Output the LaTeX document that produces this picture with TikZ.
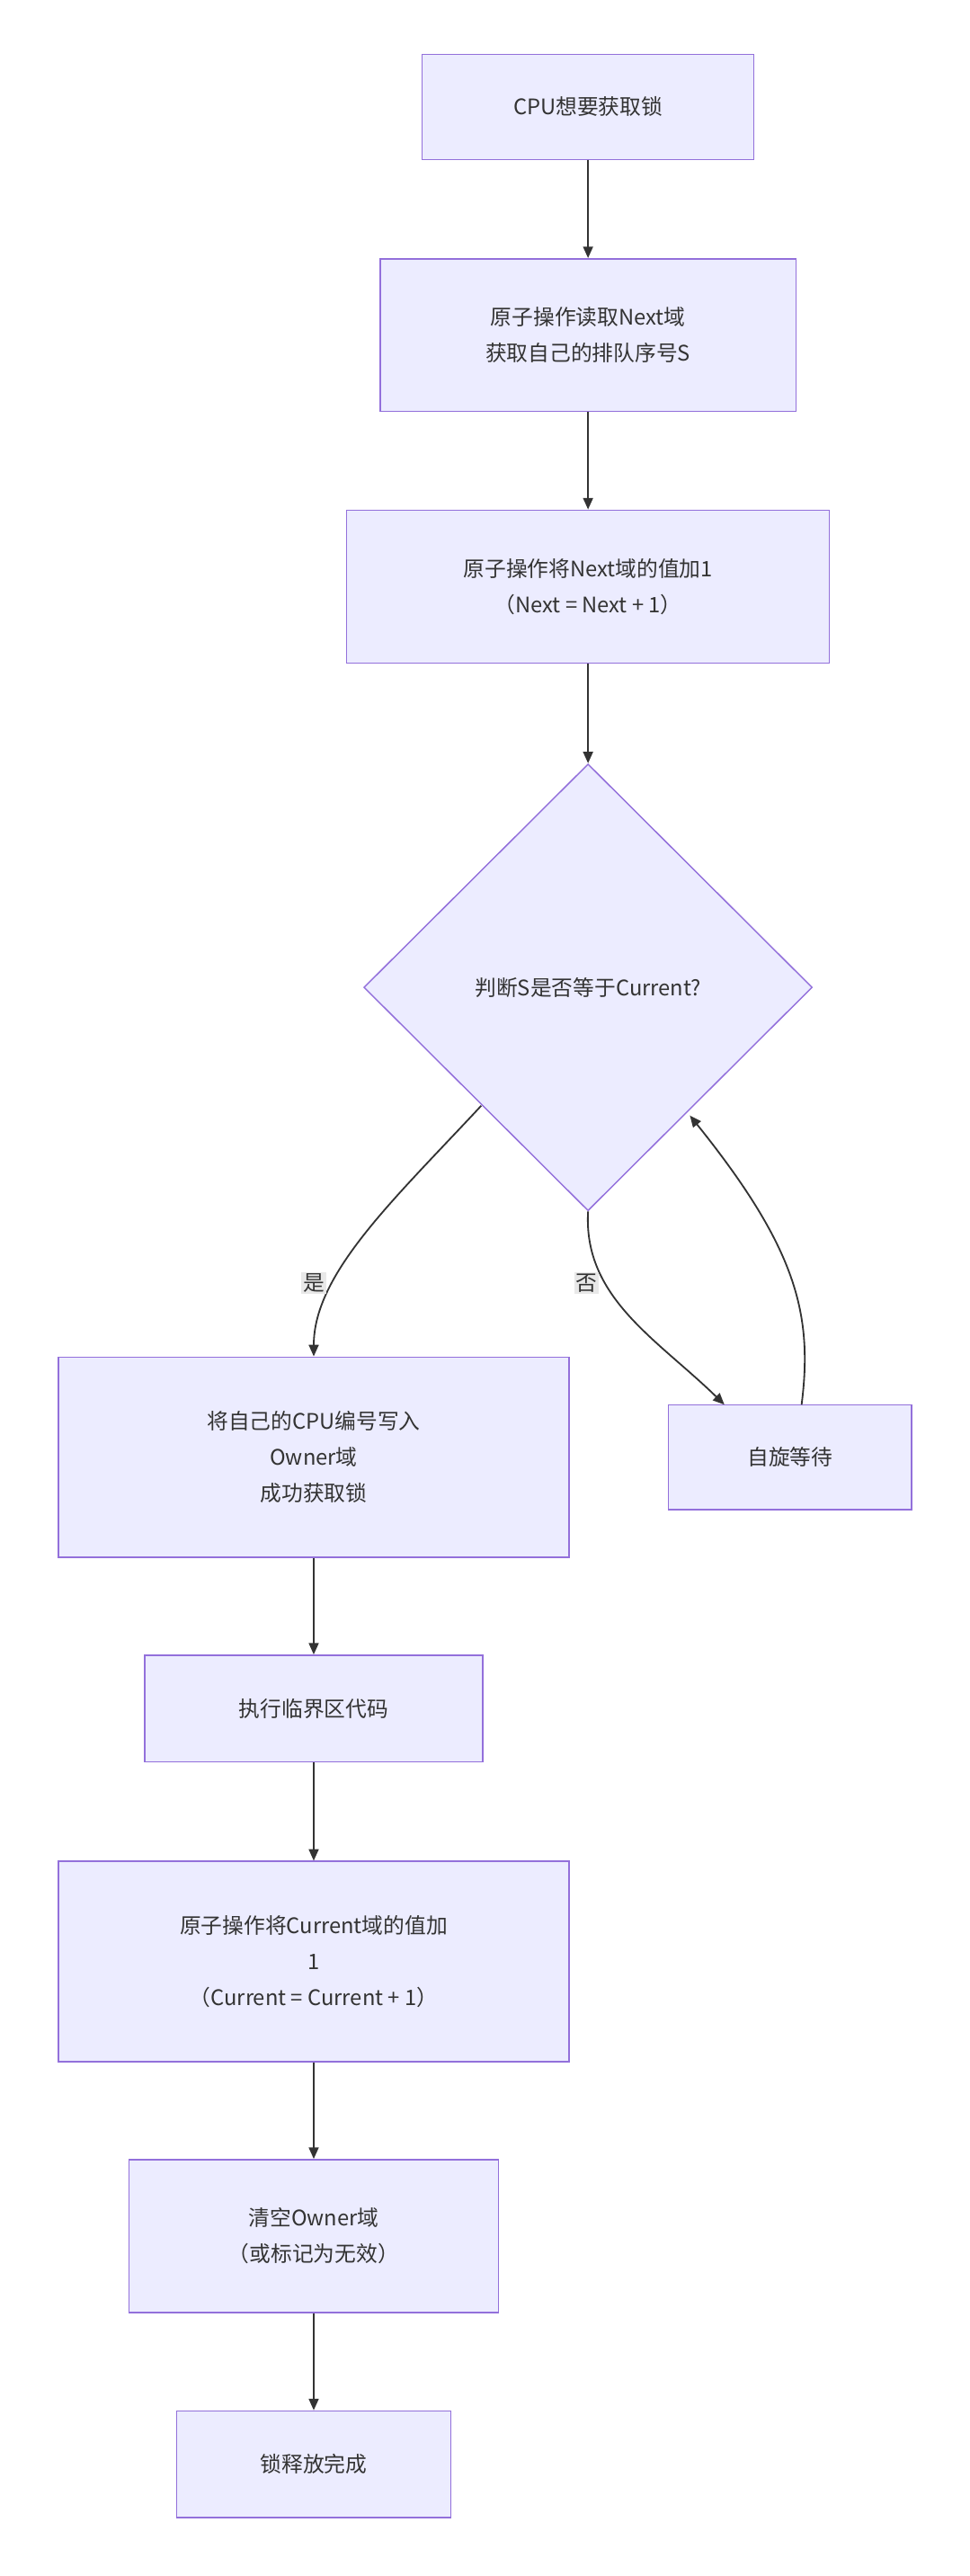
\documentclass[tikz,border=0pt]{standalone}
\usepackage{fontspec}
\setmainfont{Noto Sans CJK SC}
\usetikzlibrary{shapes.geometric,arrows.meta}
\definecolor{boxfill}{HTML}{ECECFF}
\definecolor{boxline}{HTML}{9370DB}
\definecolor{txt}{HTML}{333333}
\tikzset{box/.style={draw=boxline,fill=boxfill,text=txt,align=center,inner sep=0pt,line width=0.8pt,font=\fontsize{13}{22}\selectfont},
 flow/.style={draw=txt,line width=1pt,-{Triangle[length=7pt,width=6pt]}},
 lbl/.style={fill=black!9,text=txt,inner sep=1pt,font=\fontsize{13}{16}\selectfont},
 }
\begin{document}
\begin{tikzpicture}[x=1pt,y=-1pt]
        \useasboundingbox (0,0) rectangle (590,1568);
        \node[box,minimum width=202pt,minimum height=64pt] (want) at (358,65) {CPU想要获取锁};
        \node[box,minimum width=253pt,minimum height=93pt] (read) at (358,204) {原子操作读取Next域\\获取自己的排队序号S};
        \node[box,minimum width=294pt,minimum height=93pt] (inc) at (358,357) {原子操作将Next域的值加1\\（Next = Next + 1）};
        \node[box,diamond,minimum width=273pt,minimum height=272pt] (check) at (358,601) {判断S是否等于Current?};
        \node[box,minimum width=311pt,minimum height=122pt] (owner) at (191,887) {将自己的CPU编号写入\\Owner域\\成功获取锁};
        \node[box,minimum width=148pt,minimum height=64pt] (spin) at (481,887) {自旋等待};
        \node[box,minimum width=206pt,minimum height=65pt] (crit) at (191,1040) {执行临界区代码};
        \node[box,minimum width=311pt,minimum height=122pt] (cur) at (191,1194) {原子操作将Current域的值加\\1\\（Current = Current + 1）};
        \node[box,minimum width=225pt,minimum height=93pt] (clear) at (191,1361) {清空Owner域\\（或标记为无效）};
        \node[box,minimum width=167pt,minimum height=65pt] (done) at (191,1500) {锁释放完成};

        \draw[flow] (want) -- (read);
        \draw[flow] (read) -- (inc);
        \draw[flow] (inc) -- (check);
        \draw[flow] (293,673) .. controls (240,730) and (191,775) .. (owner.north);
        \node[lbl] at (191,781) {是};
        \draw[flow] (check.south) .. controls (355,790) and (400,815) .. (441,855);
        \node[lbl] at (357,781) {否};
        \draw[flow] (488,855) .. controls (495,800) and (485,760) .. (420,679);
        \draw[flow] (owner) -- (crit);
        \draw[flow] (crit) -- (cur);
        \draw[flow] (cur) -- (clear);
        \draw[flow] (clear) -- (done);
\end{tikzpicture}
\end{document}
